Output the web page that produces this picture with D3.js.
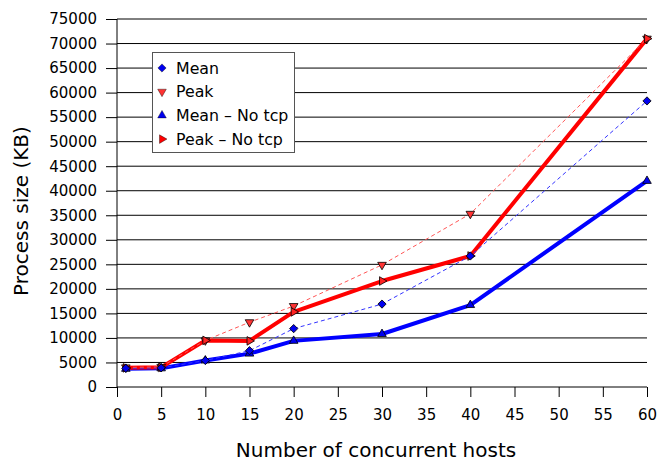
<!DOCTYPE html>
<html><head><meta charset="utf-8">
<script src="https://cdn.jsdelivr.net/npm/d3@7"></script>
<style>body{margin:0;background:#fff}svg{display:block;font-family:"DejaVu Sans",sans-serif}</style>
</head><body><svg id="c" width="658" height="461"></svg>
<script>
const hosts = [1, 5, 10, 15, 20, 30, 40, 60];
const mean = [3800, 3900, 5400, 7400, 11900, 16900, 26700, 58300];
const peak = [4000, 4100, 9500, 13200, 16500, 24900, 35300, 71000];
const meanNoTcp = [3700, 3800, 5400, 6800, 9400, 10800, 16700, 42000];
const peakNoTcp = [3900, 4000, 9500, 9400, 15300, 21600, 26700, 71000];
const xTicks = d3.range(0, 61, 5);
const yTicks = d3.range(0, 75001, 5000);
const seriesNames = ["Mean", "Peak", "Mean \u2013 No tcp", "Peak \u2013 No tcp"];

const svg = d3.select("#c");
const x = d3.scaleLinear().domain([0, 60]).range([117, 647]);
const y = d3.scaleLinear().domain([0, 75000]).range([387, 19]);

// grid
svg.append("g").selectAll("line").data(yTicks.slice(1)).join("line")
  .attr("x1", x(0)).attr("x2", x(60)).attr("y1", d => y(d)).attr("y2", d => y(d))
  .attr("stroke", "#000").attr("stroke-width", 1);

// axes
const yAxis = d3.axisLeft(y).tickValues(yTicks).tickSize(11).tickPadding(9).tickFormat(d3.format("d"));
const gy = svg.append("g").attr("transform", `translate(${x(0)},0)`).call(yAxis);
gy.select(".domain").remove();
gy.selectAll("text").attr("font-size", 15).attr("fill", "#000").attr("font-family", "DejaVu Sans");
svg.append("line").attr("x1", x(0)).attr("x2", x(0)).attr("y1", y(0)).attr("y2", y(75000)).attr("stroke", "#000");

const xAxis = d3.axisBottom(x).tickValues(xTicks).tickSize(10).tickPadding(12);
const gx = svg.append("g").attr("transform", `translate(0,${y(0)})`).call(xAxis);
gx.select(".domain").attr("d", `M${x(0)},0H${x(60)}`);
gx.selectAll("text").attr("font-size", 15).attr("fill", "#000").attr("font-family", "DejaVu Sans");

svg.append("text").attr("x", 376).attr("y", 457).attr("text-anchor", "middle")
  .attr("font-size", 20).text("Number of concurrent hosts");
svg.append("text").attr("transform", "translate(28,211) rotate(-90)").attr("text-anchor", "middle")
  .attr("font-size", 20).text("Process size (KB)");

const line = d3.line().x(d => x(d[0])).y(d => y(d[1]));
const pts = arr => hosts.map((h, i) => [h, arr[i]]);

svg.append("path").attr("d", line(pts(meanNoTcp))).attr("fill", "none").attr("stroke", "#0000ff").attr("stroke-width", 4).attr("stroke-linejoin", "round");
svg.append("path").attr("d", line(pts(peakNoTcp))).attr("fill", "none").attr("stroke", "#ff0000").attr("stroke-width", 4).attr("stroke-linejoin", "round");
svg.append("path").attr("d", line(pts(mean))).attr("fill", "none").attr("stroke", "#3333ff").attr("stroke-width", 1).attr("stroke-dasharray", "4,3");
svg.append("path").attr("d", line(pts(peak))).attr("fill", "none").attr("stroke", "#ff5555").attr("stroke-width", 1).attr("stroke-dasharray", "4,3");

const sym = {
  diamond: d3.symbol().type(d3.symbolSquare).size(34)(),
  tri: d3.symbol().type(d3.symbolTriangle).size(32)()
};
function markers(arr, path, rot, fill) {
  svg.append("g").selectAll("path").data(pts(arr)).join("path")
    .attr("d", path)
    .attr("transform", d => `translate(${x(d[0])},${y(d[1])}) rotate(${rot})`)
    .attr("fill", fill).attr("stroke", "#000").attr("stroke-width", 0.8);
}
markers(meanNoTcp, sym.tri, 0, "#0000ee");
markers(peak, sym.tri, 180, "#ff3333");
markers(peakNoTcp, sym.tri, 90, "#ff2222");
markers(mean, sym.diamond, 45, "#0000ee");

// legend
const lg = svg.append("g");
lg.append("rect").attr("x", 152.5).attr("y", 52.5).attr("width", 142).attr("height", 100)
  .attr("fill", "#fff").attr("stroke", "#555");
const legendSyms = [[sym.diamond, 45, "#0000ee"], [sym.tri, 180, "#ff3333"], [sym.tri, 0, "#0000ee"], [sym.tri, 90, "#ff0000"]];
seriesNames.forEach((n, i) => {
  const cy = 68 + i * 23.7;
  lg.append("path").attr("d", legendSyms[i][0])
    .attr("transform", `translate(162,${cy}) rotate(${legendSyms[i][1]})`)
    .attr("fill", legendSyms[i][2]).attr("stroke", "#000").attr("stroke-width", 0.4);
  lg.append("text").attr("x", 176).attr("y", cy + 5.5).attr("font-size", 15.8).text(n);
});
</script></body></html>
